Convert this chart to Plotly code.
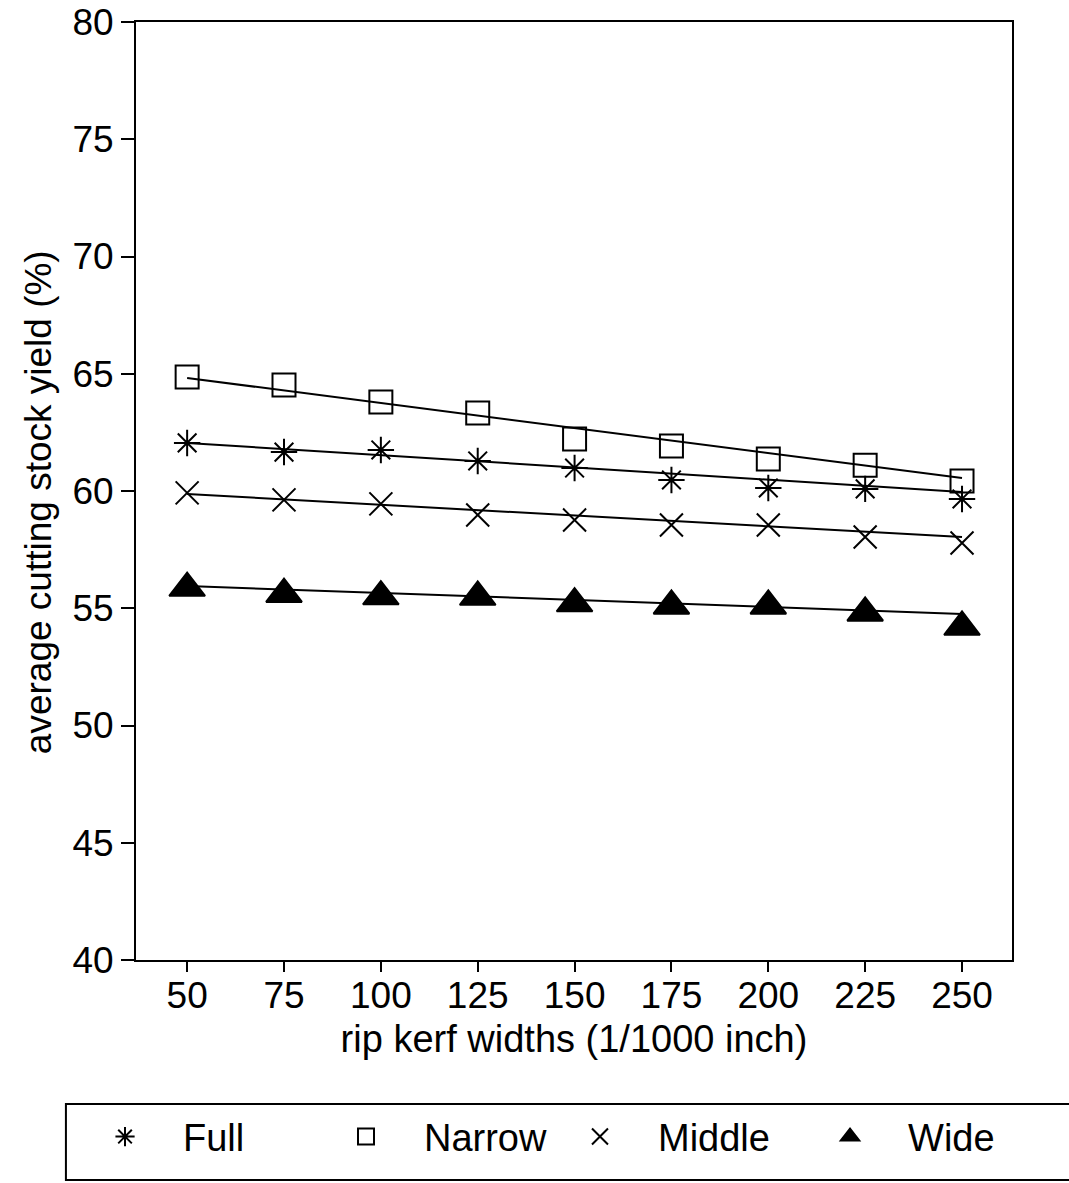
import plotly.graph_objects as go

kerf = [50, 75, 100, 125, 150, 175, 200, 225, 250]
full = [62.05, 61.66, 61.75, 61.28, 60.98, 60.47, 60.13, 60.09, 59.66]
narrow = [64.86, 64.52, 63.80, 63.33, 62.22, 61.92, 61.36, 61.10, 60.43]
middle = [59.92, 59.62, 59.45, 58.98, 58.76, 58.55, 58.55, 58.04, 57.78]
wide = [55.86, 55.60, 55.50, 55.48, 55.20, 55.10, 55.10, 54.80, 54.20]

fit_x = [50, 250]
full_fit = [62.05, 59.96]
narrow_fit = [64.82, 60.55]
middle_fit = [59.87, 58.04]
wide_fit = [55.95, 54.76]

y_ticks = [40, 45, 50, 55, 60, 65, 70, 75, 80]

FONT = "Liberation Sans, Arial, sans-serif"

fig = go.Figure()

for fit in [narrow_fit, full_fit, middle_fit, wide_fit]:
    fig.add_trace(go.Scatter(x=fit_x, y=fit, mode="lines",
                             line=dict(color="black", width=2),
                             showlegend=False, hoverinfo="skip"))

series = [
    ("Full", full, "asterisk-open", 22, "legend", 0.0627),
    ("Narrow", narrow, "square-open", 23, "legend2", 0.2881),
    ("Middle", middle, "x-thin-open", 23, "legend3", 0.507),
    ("Wide", wide, "triangle-up", 31, "legend4", 0.7409),
]
legend_cfg = {}
for name, vals, sym, size, lg, lx in series:
    fig.add_trace(go.Scatter(
        x=kerf, y=vals, mode="markers", name=name, legend=lg,
        marker=dict(symbol=sym, size=size, color="black",
                    line=dict(color="black", width=2)),
    ))
    legend_cfg[lg] = dict(orientation="h", xref="container", x=lx,
                          xanchor="left", yref="container", y=0.039,
                          yanchor="middle",
                          font=dict(family=FONT, size=38, color="black"),
                          itemwidth=106, itemsizing="trace",
                          bgcolor="rgba(0,0,0,0)", borderwidth=0)

fig.add_shape(type="rect", xref="paper", yref="paper",
              x0=-0.08, x1=1.2, y0=-0.2345, y1=-0.1535,
              line=dict(color="black", width=2), fillcolor="rgba(0,0,0,0)")

fig.add_annotation(text="average cutting stock yield (%)", textangle=-90,
                   xref="paper", yref="paper", x=-0.112, y=0.488,
                   xanchor="center", yanchor="middle", showarrow=False,
                   font=dict(family=FONT, size=37, color="black"))

fig.update_layout(
    width=1069, height=1183,
    margin=dict(l=136, r=57, t=22, b=223, autoexpand=False),
    paper_bgcolor="white", plot_bgcolor="white",
    font=dict(family=FONT, size=37, color="black"),
    showlegend=True,
    xaxis=dict(range=[36.8, 262.9], tickvals=kerf, ticks="outside",
               ticklen=10, tickwidth=2, tickcolor="black",
               showline=True, linecolor="black", linewidth=2, mirror=True,
               showgrid=False, zeroline=False,
               tickfont=dict(size=37), ticklabelstandoff=-8,
               title=dict(text="rip kerf widths (1/1000 inch)",
                          font=dict(size=38), standoff=10)),
    yaxis=dict(range=[40, 80], tickvals=y_ticks, ticks="outside",
               ticklen=13, tickwidth=2, tickcolor="black",
               showline=True, linecolor="black", linewidth=2, mirror=True,
               showgrid=False, zeroline=False,
               tickfont=dict(size=37)),
)
fig.update_layout(**legend_cfg)

fig.write_html("out.html")
